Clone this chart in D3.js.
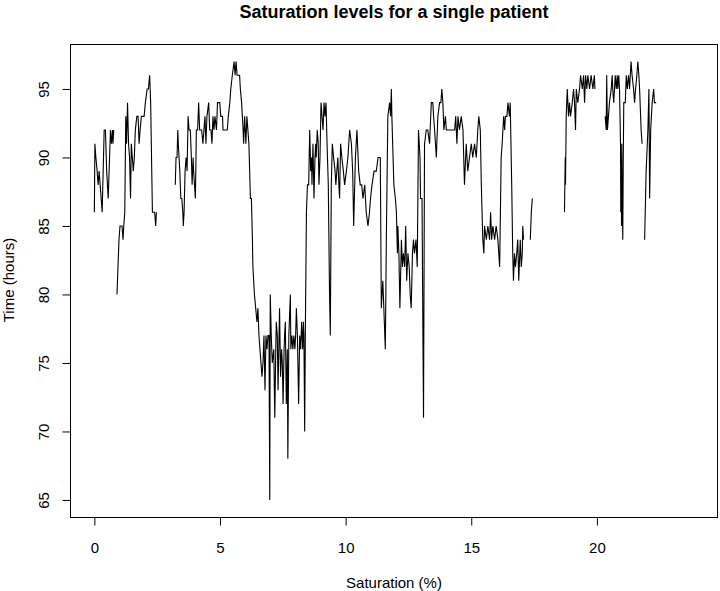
<!DOCTYPE html>
<html>
<head>
<meta charset="utf-8">
<script src="https://cdn.jsdelivr.net/npm/d3@7"></script>
<style>
	body { margin: 0; background: #fff; }
	text { font-family: "Liberation Sans", Arial, Helvetica, sans-serif; fill: #000; }
</style>
</head>
<body>
<script>
// readings are [hours, saturation]; each array is one unbroken run of the trace
var run1 = [[0.00, 86], [0.02, 91], [0.06, 90], [0.11, 89], [0.15, 88], [0.19, 89], [0.23, 88], [0.27, 87],
	[0.31, 86], [0.39, 92], [0.44, 92], [0.49, 89], [0.55, 87], [0.64, 92], [0.68, 91], [0.72, 92], [0.74, 91], [0.77, 92]];

var run2 = [[0.90, 80], [0.94, 82], [0.98, 84], [1.02, 85], [1.10, 85], [1.14, 84], [1.17, 85], [1.21, 86],
	[1.25, 93], [1.28, 91], [1.32, 94], [1.36, 91], [1.40, 90], [1.44, 87], [1.47, 91], [1.51, 90], [1.55, 89],
	[1.59, 90], [1.63, 92], [1.69, 93], [1.74, 93], [1.78, 91], [1.82, 92], [1.87, 93], [1.98, 93], [2.03, 94],
	[2.10, 95], [2.15, 95], [2.20, 96], [2.24, 94], [2.31, 86], [2.40, 86], [2.44, 85], [2.47, 86]];

var run3 = [[3.22, 88], [3.25, 90], [3.29, 90], [3.32, 92], [3.34, 91], [3.37, 90], [3.40, 89], [3.44, 87],
	[3.48, 87], [3.52, 86], [3.54, 85], [3.57, 86], [3.61, 89], [3.65, 90], [3.69, 89], [3.73, 93], [3.77, 92],
	[3.82, 92], [3.86, 90], [3.89, 88], [3.93, 90], [3.95, 89], [4.02, 87], [4.06, 92], [4.11, 92], [4.15, 94],
	[4.19, 92], [4.27, 92], [4.32, 91], [4.36, 92], [4.40, 93], [4.44, 91], [4.48, 93], [4.55, 94], [4.59, 92],
	[4.64, 92], [4.68, 91], [4.72, 93], [4.76, 92], [4.80, 93], [4.86, 92], [4.90, 94], [4.99, 94], [5.03, 93],
	[5.10, 93], [5.12, 92], [5.29, 92], [5.33, 93], [5.39, 94], [5.43, 95], [5.49, 96], [5.56, 97], [5.60, 96],
	[5.64, 97], [5.68, 96], [5.78, 96], [5.81, 95], [5.86, 94], [5.92, 92], [5.94, 91], [5.98, 93], [6.03, 91],
	[6.07, 93], [6.11, 92], [6.15, 91], [6.21, 87], [6.25, 87], [6.29, 84], [6.31, 82], [6.37, 80], [6.42, 79],
	[6.47, 78], [6.51, 79], [6.55, 77], [6.59, 76], [6.63, 75], [6.67, 74], [6.71, 75], [6.75, 77], [6.79, 73],
	[6.83, 77], [6.87, 76], [6.91, 77], [6.95, 77], [6.98, 65], [7.00, 80], [7.04, 77], [7.08, 75], [7.14, 76],
	[7.18, 71], [7.22, 76], [7.24, 78], [7.28, 77], [7.31, 73], [7.35, 77], [7.37, 79], [7.41, 74], [7.45, 76],
	[7.48, 75], [7.51, 72], [7.55, 76], [7.57, 77], [7.60, 78], [7.64, 72], [7.68, 76], [7.70, 68], [7.74, 77],
	[7.80, 80], [7.82, 76], [7.86, 77], [7.90, 76], [7.94, 77], [7.98, 76], [8.01, 77], [8.04, 79], [8.08, 77],
	[8.13, 72], [8.17, 77], [8.21, 76], [8.25, 78], [8.29, 76], [8.32, 78], [8.34, 77], [8.37, 70], [8.40, 78],
	[8.44, 86], [8.48, 88], [8.53, 88], [8.57, 92], [8.61, 89], [8.64, 90], [8.66, 88], [8.70, 91], [8.74, 87],
	[8.78, 90], [8.81, 91], [8.83, 90], [8.87, 92], [8.91, 91], [8.94, 88], [8.98, 90], [9.02, 94], [9.06, 93],
	[9.10, 92], [9.14, 94], [9.18, 93], [9.22, 94], [9.26, 91], [9.31, 88], [9.36, 80], [9.39, 77], [9.43, 88],
	[9.47, 91], [9.52, 90], [9.58, 89], [9.61, 88], [9.65, 89], [9.69, 90], [9.73, 88], [9.76, 87], [9.80, 91],
	[9.85, 90], [9.91, 89], [9.96, 88], [10.03, 89], [10.09, 90], [10.16, 92], [10.23, 91], [10.28, 89],
	[10.32, 85], [10.39, 90], [10.45, 92], [10.52, 89], [10.58, 88], [10.64, 88], [10.69, 87], [10.76, 88],
	[10.82, 86], [10.89, 85], [10.95, 86], [10.99, 87], [11.05, 88], [11.13, 89], [11.22, 89], [11.29, 90],
	[11.38, 90], [11.42, 79], [11.48, 81], [11.52, 79], [11.58, 76], [11.62, 84], [11.68, 93], [11.75, 94],
	[11.79, 93], [11.82, 95], [11.84, 93], [11.92, 88], [11.98, 87], [12.02, 86], [12.06, 83], [12.08, 85],
	[12.12, 83], [12.16, 79], [12.22, 84], [12.26, 82], [12.30, 83], [12.35, 82], [12.39, 85], [12.43, 81],
	[12.48, 83], [12.53, 82], [12.57, 80], [12.61, 79], [12.66, 83], [12.70, 84], [12.74, 83], [12.80, 84],
	[12.85, 82], [12.90, 92], [12.96, 90], [12.98, 87], [13.04, 87], [13.08, 76], [13.10, 71], [13.14, 91],
	[13.21, 92], [13.27, 92], [13.34, 91], [13.41, 94], [13.47, 94], [13.50, 93], [13.54, 92], [13.61, 90],
	[13.67, 93], [13.74, 94], [13.79, 94], [13.83, 95], [13.87, 94], [13.91, 92], [13.97, 93], [14.01, 92],
	[14.34, 92], [14.38, 93], [14.43, 91], [14.47, 93], [14.53, 92], [14.60, 93], [14.67, 92], [14.73, 88],
	[14.80, 91], [14.86, 89], [14.93, 90], [15.00, 91], [15.06, 90], [15.13, 91], [15.20, 90], [15.26, 92],
	[15.30, 93], [15.36, 92], [15.40, 88], [15.46, 84], [15.50, 83], [15.53, 85], [15.60, 84], [15.66, 85],
	[15.73, 84], [15.77, 86], [15.81, 84], [15.86, 85], [15.93, 84], [15.99, 85], [16.06, 84], [16.13, 82],
	[16.19, 90], [16.23, 91], [16.29, 93], [16.33, 92], [16.36, 93], [16.42, 93], [16.46, 94], [16.52, 93],
	[16.55, 94], [16.61, 88], [16.65, 83], [16.68, 81], [16.72, 83], [16.76, 82], [16.81, 83], [16.85, 84],
	[16.89, 81], [16.95, 84], [16.99, 82], [17.03, 83], [17.05, 85], [17.08, 84]];

var run4 = [[17.35, 84], [17.39, 86], [17.43, 87]];

var run5 = [[18.71, 86], [18.74, 90], [18.75, 88], [18.78, 93], [18.82, 95], [18.87, 93], [18.91, 94],
	[18.95, 93], [19.02, 94], [19.07, 95], [19.11, 94], [19.15, 92], [19.18, 95], [19.24, 94], [19.31, 95],
	[19.35, 96], [19.42, 95], [19.47, 96], [19.51, 94], [19.55, 96], [19.60, 95], [19.64, 96], [19.71, 95],
	[19.77, 96], [19.84, 95], [19.90, 96], [19.92, 95]];

var run6 = [[20.33, 93], [20.37, 92], [20.39, 96], [20.42, 92], [20.46, 93], [20.50, 94], [20.57, 95],
	[20.61, 96], [20.63, 95], [20.67, 94], [20.73, 96], [20.77, 95], [20.81, 96], [20.83, 95], [20.87, 96],
	[20.90, 95], [20.94, 91], [20.95, 86], [20.97, 90], [20.98, 85], [20.99, 91], [21.01, 87], [21.03, 84],
	[21.05, 90], [21.07, 94], [21.13, 94], [21.17, 96], [21.21, 95], [21.26, 96], [21.30, 95], [21.36, 97],
	[21.40, 96], [21.46, 95], [21.50, 94], [21.54, 95], [21.59, 96], [21.63, 97], [21.67, 96], [21.70, 95],
	[21.76, 92], [21.80, 91]];

var run7 = [[21.90, 84], [21.96, 89], [22.03, 92], [22.07, 95], [22.10, 87], [22.14, 92], [22.20, 94],
	[22.26, 95], [22.29, 94], [22.36, 94]];

var runs = [run1, run2, run3, run4, run5, run6, run7];

var xTicks = [0, 5, 10, 15, 20];
var yTicks = [65, 70, 75, 80, 85, 90, 95];

var chartTitle = "Saturation levels for a single patient";
var xTitle = "Saturation (%)";
var yTitle = "Time (hours)";

function drawChart() {
	var width = 720,
		height = 591;

	var svg = d3.select("body").append("svg")
		.attr("width", width)
		.attr("height", height);

	// plot region, same padding R adds round the data
	var x = d3.scaleLinear().domain([-0.97, 24.82]).range([70, 718]);
	var y = d3.scaleLinear().domain([63.72, 98.28]).range([517.5, 44]);

	// join the runs with a blank reading so the line breaks at each gap
	var readings = [];
	runs.forEach(function(run, i) {
		if (i > 0) readings.push([NaN, null]);
		readings = readings.concat(run);
	});

	var line = d3.line()
		.defined(function(d) { return d[1] != null; })
		.x(function(d) { return x(d[0]); })
		.y(function(d) { return y(d[1]); });

	svg.append("path")
		.datum(readings)
		.attr("d", line)
		.attr("fill", "none")
		.attr("stroke", "#000")
		.attr("stroke-width", 1.1);

	// frame round the plot
	svg.append("rect")
		.attr("x", 70.5)
		.attr("y", 44.5)
		.attr("width", 647)
		.attr("height", 473)
		.attr("fill", "none")
		.attr("stroke", "#000");

	var xAxis = svg.append("g")
		.attr("transform", "translate(0,517.5)")
		.call(d3.axisBottom(x).tickValues(xTicks).tickSize(8).tickPadding(17).tickFormat(d3.format("d")));
	xAxis.select(".domain").remove();
	xAxis.selectAll("text").style("font-size", "15px");

	var yAxis = svg.append("g")
		.attr("transform", "translate(70.5,0)")
		.call(d3.axisLeft(y).tickValues(yTicks).tickSize(8).tickFormat(d3.format("d")));
	yAxis.select(".domain").remove();
	// R writes the y labels turned on their side
	yAxis.selectAll("text")
		.attr("x", null)
		.attr("dy", "0.35em")
		.attr("transform", "translate(-27,0) rotate(-90)")
		.style("text-anchor", "middle")
		.style("font-size", "15px");

	svg.append("text")
		.attr("x", 394)
		.attr("y", 12)
		.attr("dy", "0.35em")
		.style("text-anchor", "middle")
		.style("font-size", "18px")
		.style("font-weight", "bold")
		.text(chartTitle);

	svg.append("text")
		.attr("x", 394)
		.attr("y", 583)
		.attr("dy", "0.35em")
		.style("text-anchor", "middle")
		.style("font-size", "15px")
		.text(xTitle);

	svg.append("text")
		.attr("transform", "translate(9,280) rotate(-90)")
		.attr("dy", "0.35em")
		.style("text-anchor", "middle")
		.style("font-size", "15px")
		.text(yTitle);
}

drawChart();
</script>
</body>
</html>
